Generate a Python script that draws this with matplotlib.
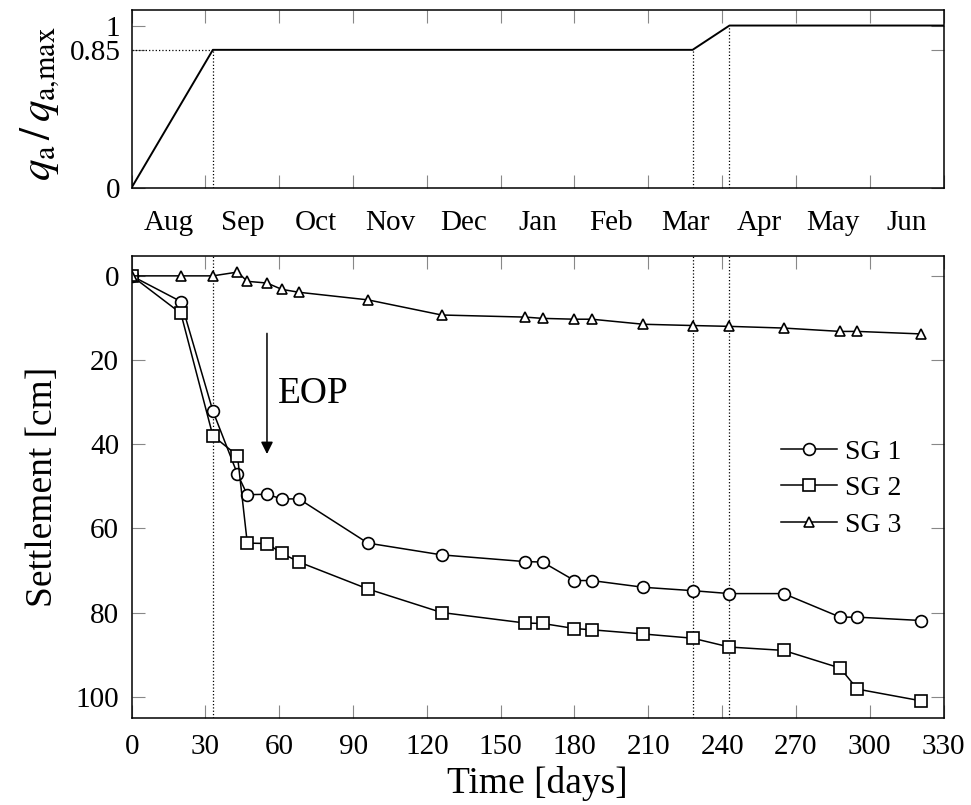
import numpy as np
import matplotlib
matplotlib.use('Agg')
import matplotlib.pyplot as plt

plt.rcParams['font.family'] = ['Liberation Serif', 'DejaVu Serif']
plt.rcParams['mathtext.fontset'] = 'stix'

# load history (top panel)
load_days = [0, 33, 228, 243, 330]
load_ratio = [0, 0.85, 0.85, 1.0, 1.0]
stage_days = [33, 228, 243]
months = ['Aug', 'Sep', 'Oct', 'Nov', 'Dec', 'Jan', 'Feb', 'Mar', 'Apr', 'May', 'Jun']

# settlement gauges (bottom panel)
days = [0, 20, 33, 43, 47, 55, 61, 68, 96, 126, 160, 167, 180, 187, 208, 228, 243, 265, 288, 295, 321]
sg1 = [0, 6.1, 32.1, 47.1, 52.0, 51.9, 53.0, 53.0, 63.5, 66.3, 67.9, 68.0, 72.4, 72.4, 74.0, 74.8,
       75.5, 75.5, 81.1, 81.1, 81.9]
sg2 = [0, 8.9, 38.0, 42.7, 63.5, 63.6, 65.9, 68.0, 74.4, 80.0, 82.5, 82.6, 83.8, 84.1, 85.1, 86.1,
       88.2, 89.0, 93.2, 98.2, 101.0]
sg3 = [0, 0, 0, -0.9, 1.3, 1.7, 3.2, 3.9, 5.7, 9.3, 9.8, 10.1, 10.3, 10.3, 11.5, 11.8, 12.0, 12.4,
       13.2, 13.2, 13.8]

fig = plt.figure(figsize=(9.71, 8.05), dpi=100)
ax1 = fig.add_axes([0.1356, 0.767, 0.8361, 0.2206])
ax2 = fig.add_axes([0.1356, 0.1084, 0.8361, 0.574])

tick_kw = dict(direction='in', top=True, right=True, length=9.5, width=0.8,
               color='#888888', labelsize=21)

# --- top panel
ax1.plot(load_days, load_ratio, color='black', lw=1.4)
for d in stage_days:
    ax1.vlines(d, 0, np.interp(d, load_days, load_ratio), colors='black', linestyles=':', lw=0.9)
ax1.hlines(0.85, 0, stage_days[0], colors='black', linestyles=':', lw=0.9)
ax1.set_xlim(0, 330)
ax1.set_ylim(0, 1.096)
ax1.set_yticks([0, 0.85, 1])
ax1.set_yticklabels(['0', '0.85', '1'])
ax1.set_xticks(np.arange(0, 331, 30))
ax1.set_xticklabels([])
ax1.set_xticks(np.arange(15, 330, 30), minor=True)
ax1.set_xticklabels(months, minor=True)
ax1.tick_params(axis='both', which='major', pad=8, **tick_kw)
ax1.tick_params(axis='x', which='minor', length=0, pad=16, labelsize=21)
ax1.set_ylabel(r'$q_\mathrm{a}\,/\,q_\mathrm{a{,}max}$', fontsize=31)
ax1.yaxis.set_label_coords(-0.086, 0.47)

# --- bottom panel
mk = dict(color='black', lw=1.1, markerfacecolor='white', markeredgecolor='black', markeredgewidth=1.2)
ax2.plot(days, sg1, marker='o', markersize=8.5, label='SG 1', **mk)
ax2.plot(days, sg2, marker='s', markersize=8, label='SG 2', **mk)
ax2.plot(days, sg3, marker='^', markersize=7, label='SG 3', **mk)
for d in stage_days:
    ax2.axvline(d, color='black', ls=':', lw=0.9, zorder=0)

ax2.annotate('', xy=(55, 43), xytext=(55, 13),
             arrowprops=dict(arrowstyle='-|>', color='black', lw=1.1, mutation_scale=18))
ax2.text(59.5, 28, 'EOP', fontsize=27, ha='left', va='center')

ax2.set_xlim(0, 330)
ax2.set_ylim(105, -4.8)
ax2.set_xticks(np.arange(0, 331, 30))
ax2.set_yticks(np.arange(0, 101, 20))
ax2.tick_params(axis='both', pad=9, **tick_kw)
ax2.tick_params(axis='x', pad=12)
ax2.set_xlabel('Time [days]', fontsize=27)
ax2.set_ylabel('Settlement [cm]', fontsize=27)
ax2.yaxis.set_label_coords(-0.088, 0.5)

ax2.legend(loc='upper left', bbox_to_anchor=(0.80, 0.603), frameon=False, fontsize=20,
           handlelength=2.0, handletextpad=0.3, labelspacing=0.4, borderpad=0, borderaxespad=0)

for ax in (ax1, ax2):
    for sp in ax.spines.values():
        sp.set_linewidth(1.1)

fig.savefig('out.png', dpi=100)
